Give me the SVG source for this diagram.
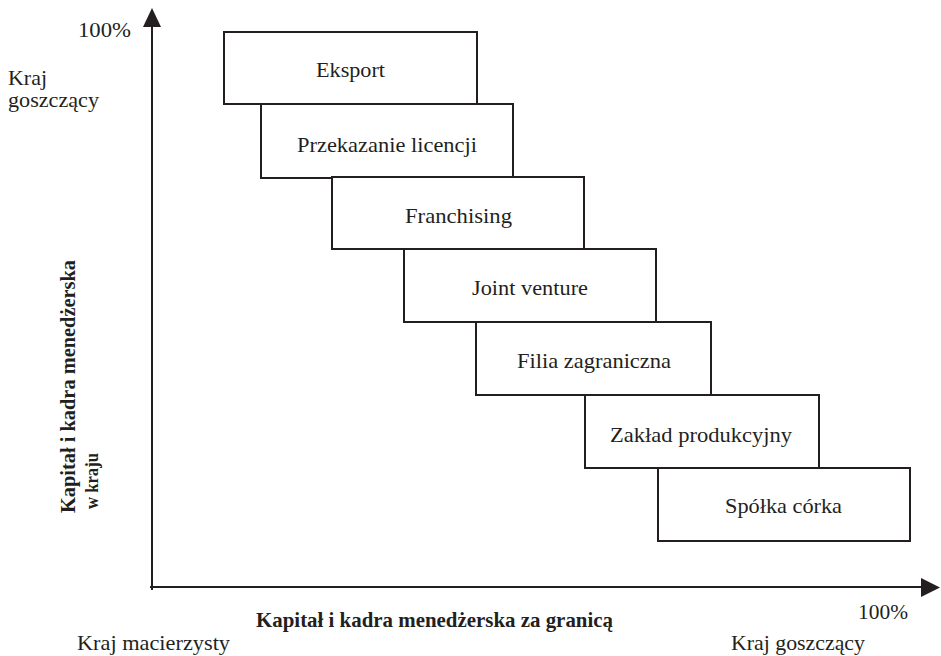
<svg xmlns="http://www.w3.org/2000/svg" width="941" height="656" viewBox="0 0 941 656">
<style>
.box{fill:#fff;stroke:#231f20;stroke-width:2}
.t{font-family:"Liberation Serif","Times New Roman",serif;font-size:21.5px;fill:#231f20}
.c{text-anchor:middle}
.b{font-weight:bold}
.s{font-size:19px}
.ax{stroke:#231f20;stroke-width:2;fill:none}
</style>
<rect width="941" height="656" fill="#fff"/>
<g id="connectors">
<path class="ax" d="M152,590 L152,24"/>
<path d="M143,27 L152,8 L161,27 Z" fill="#231f20"/>
<path class="ax" d="M150,587 L924,587"/>
<path d="M921,578 L940,587.5 L921,597 Z" fill="#231f20"/>
</g>
<g id="n1"><rect class="box" x="224" y="32" width="253" height="72"/><text class="t c" x="350.5" y="77" textLength="69" lengthAdjust="spacingAndGlyphs">Eksport</text></g>
<g id="n2"><rect class="box" x="261" y="104" width="252" height="74"/><text class="t c" x="387" y="152" textLength="180" lengthAdjust="spacingAndGlyphs">Przekazanie licencji</text></g>
<g id="n3"><rect class="box" x="332" y="177" width="252" height="72"/><text class="t c" x="458.5" y="223" textLength="107" lengthAdjust="spacingAndGlyphs">Franchising</text></g>
<g id="n4"><rect class="box" x="404" y="249" width="252" height="73"/><text class="t c" x="530" y="295" textLength="116" lengthAdjust="spacingAndGlyphs">Joint venture</text></g>
<g id="n5"><rect class="box" x="476" y="322" width="235" height="73"/><text class="t c" x="594" y="368" textLength="154" lengthAdjust="spacingAndGlyphs">Filia zagraniczna</text></g>
<g id="n6"><rect class="box" x="585" y="395" width="234" height="73"/><text class="t c" x="701" y="442" textLength="182" lengthAdjust="spacingAndGlyphs">Zakład produkcyjny</text></g>
<g id="n7"><rect class="box" x="658" y="468" width="252" height="73"/><text class="t c" x="783.5" y="513" textLength="117" lengthAdjust="spacingAndGlyphs">Spółka córka</text></g>
<g id="labels">
<text class="t" x="78" y="37" textLength="53" lengthAdjust="spacingAndGlyphs">100%</text>
<text class="t" x="8" y="85" textLength="39" lengthAdjust="spacingAndGlyphs">Kraj</text>
<text class="t" x="8" y="107" textLength="91" lengthAdjust="spacingAndGlyphs">goszczący</text>
<text class="t b" transform="translate(75,513) rotate(-90)" x="0" y="0" textLength="253" lengthAdjust="spacingAndGlyphs">Kapitał i kadra menedżerska</text>
<text class="t b s" transform="translate(98,509) rotate(-90)" x="0" y="0" textLength="56" lengthAdjust="spacingAndGlyphs">w kraju</text>
<text class="t b" x="256" y="627" textLength="357" lengthAdjust="spacingAndGlyphs">Kapitał i kadra menedżerska za granicą</text>
<text class="t" x="77" y="650" textLength="153" lengthAdjust="spacingAndGlyphs">Kraj macierzysty</text>
<text class="t" x="858" y="619" textLength="50" lengthAdjust="spacingAndGlyphs">100%</text>
<text class="t" x="731" y="650" textLength="134" lengthAdjust="spacingAndGlyphs">Kraj goszczący</text>
</g>
</svg>
